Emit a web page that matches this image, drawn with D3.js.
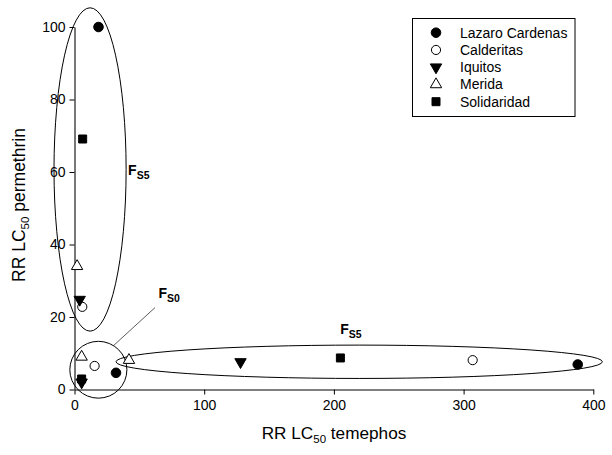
<!DOCTYPE html>
<html><head><meta charset="utf-8">
<script src="https://cdn.jsdelivr.net/npm/d3@7"></script>
<style>body{margin:0;background:#fff}svg{display:block;font-family:"Liberation Sans",Arial,sans-serif}</style>
</head><body><svg id="c" width="612" height="455"></svg>
<script>
const series = ["Lazaro Cardenas","Calderitas","Iquitos","Merida","Solidaridad"];
const temephos = {
  "Lazaro Cardenas":[18.5, 32, 388],
  "Calderitas":[6, 15.5, 307],
  "Iquitos":[4, 5.5, 128],
  "Merida":[2, 5.5, 42],
  "Solidaridad":[6.3, 5.5, 205]
};
const permethrin = {
  "Lazaro Cardenas":[100, 4.6, 6.9],
  "Calderitas":[22.8, 6.5, 8.1],
  "Iquitos":[24.8, 2.0, 7.6],
  "Merida":[34, 9, 8.1],
  "Solidaridad":[69.1, 2.9, 8.7]
};
const xTicks = [0,100,200,300,400];
const yTicks = [0,20,40,60,80,100];
// groupings (ellipses in data units): cx, cy, rx, ry
const groups = [
  {label:"S5", cx:12, cy:60.7, rx:27.8, ry:44.6, lx:41.3, ly:59.3},
  {label:"S0", cx:18.4, cy:5.45, rx:22, ry:7.84, lx:64.7, ly:25.2},
  {label:"S5", cx:219.5, cy:7.65, rx:187.5, ry:4.6, lx:204.9, ly:15.2}
];
const leader = [[62.1,22.6],[29.9,12.05]];

const svg = d3.select("#c");
const x = d3.scaleLinear().domain([0,400]).range([74.5,593.3]);
const y = d3.scaleLinear().domain([0,100]).range([389.5,27]);

// axes
const gx = svg.append("g").attr("transform",`translate(0,${y(0)})`)
  .call(d3.axisBottom(x).tickValues(xTicks).tickSize(5).tickSizeOuter(0).tickPadding(6));
const gy = svg.append("g").attr("transform",`translate(${x(0)},0)`)
  .call(d3.axisLeft(y).tickValues(yTicks).tickSize(5).tickSizeOuter(0).tickPadding(4));
[gx,gy].forEach(g=>{
  g.selectAll("text").attr("font-size",14).attr("fill","#000").attr("font-family","Liberation Sans, Arial, sans-serif");
  g.selectAll("line,path").attr("stroke","#000");
});
gy.select("path").attr("stroke","#555").attr("stroke-width",1.6);

// ellipses
svg.append("g").selectAll("ellipse").data(groups).join("ellipse")
  .attr("cx",d=>x(d.cx)).attr("cy",d=>y(d.cy))
  .attr("rx",d=>x(d.rx)-x(0)).attr("ry",d=>y(0)-y(d.ry))
  .attr("fill","none").attr("stroke","#000").attr("stroke-width",1);
svg.append("line").attr("x1",x(leader[0][0])).attr("y1",y(leader[0][1]))
  .attr("x2",x(leader[1][0])).attr("y2",y(leader[1][1])).attr("stroke","#333").attr("stroke-width",0.8);

// group labels
const gl = svg.append("g").selectAll("text").data(groups).join("text")
  .attr("x",d=>x(d.lx)).attr("y",d=>y(d.ly)).attr("font-weight","bold").attr("font-size",14);
gl.append("tspan").text("F");
gl.append("tspan").attr("dy",4).attr("font-size",10.5).text(d=>d.label);

// symbols
const sym = {
  "Lazaro Cardenas":{t:d3.symbolCircle,s:72,fill:"#000",rot:0},
  "Calderitas":{t:d3.symbolCircle,s:66,fill:"#fff",rot:0},
  "Iquitos":{t:d3.symbolTriangle,s:56,fill:"#000",rot:180},
  "Merida":{t:d3.symbolTriangle,s:56,fill:"#fff",rot:0},
  "Solidaridad":{t:d3.symbolSquare,s:64,fill:"#000",rot:0}
};
const pts = [];
series.forEach(s=>temephos[s].forEach((v,i)=>pts.push({s, x:v, y:permethrin[s][i]})));
svg.append("g").selectAll("path").data(pts).join("path")
  .attr("d",d=>d3.symbol(sym[d.s].t, sym[d.s].s)())
  .attr("transform",d=>`translate(${x(d.x)},${y(d.y)}) rotate(${sym[d.s].rot})`)
  .attr("fill",d=>sym[d.s].fill).attr("stroke","#000").attr("stroke-width",1);

// legend
const lg = svg.append("g");
lg.append("rect").attr("x",412.5).attr("y",18.5).attr("width",162.5).attr("height",98)
  .attr("fill","#fff").attr("stroke","#000").attr("stroke-width",1);
series.forEach((s,i)=>{
  const yy = 32.7 + i*17.25;
  lg.append("path").attr("d",d3.symbol(sym[s].t, sym[s].s)())
    .attr("transform",`translate(436,${yy}) rotate(${sym[s].rot})`)
    .attr("fill",sym[s].fill).attr("stroke","#000");
  lg.append("text").attr("x",460).attr("y",yy+5).attr("font-size",14).text(s);
});

// axis titles
const xt = svg.append("text").attr("x",334).attr("y",439).attr("text-anchor","middle").attr("font-size",17.2);
xt.append("tspan").text("RR LC");
xt.append("tspan").attr("dy",4).attr("font-size",11.5).text("50");
xt.append("tspan").attr("dy",-4).text(" temephos");
const yt = svg.append("text").attr("transform","translate(25,205) rotate(-90)").attr("text-anchor","middle").attr("font-size",17.5);
yt.append("tspan").text("RR LC");
yt.append("tspan").attr("dy",4).attr("font-size",11.5).text("50");
yt.append("tspan").attr("dy",-4).text(" permethrin");
</script></body></html>
